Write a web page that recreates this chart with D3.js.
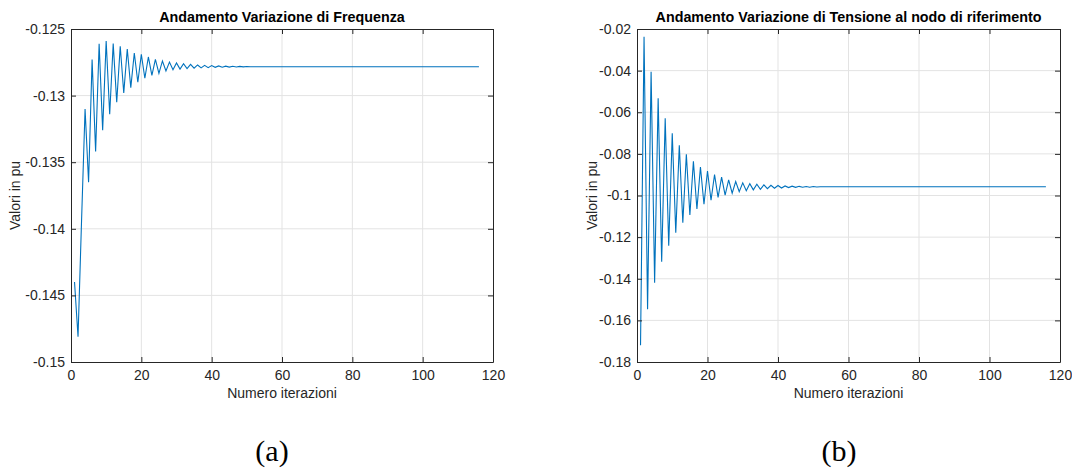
<!DOCTYPE html>
<html>
<head>
<meta charset="utf-8">
<script src="https://cdn.jsdelivr.net/npm/d3@7"></script>
<style>
  body { margin: 0; background: #fff; }
  svg { display: block; }
  text { font-family: "Liberation Sans", Arial, sans-serif; fill: #262626; }
</style>
</head>
<body>
<div id="chart"></div>
<script>
// Frequency deviation per iteration (pu)
const freqValues = [
  -0.1440, -0.1481, -0.1394, -0.1310, -0.1365, -0.1273, -0.1342, -0.1261, -0.1326, -0.1259,
  -0.1314, -0.1261, -0.1305, -0.1263, -0.1298, -0.1265, -0.1294, -0.1268, -0.1290, -0.1269,
  -0.1287, -0.1271, -0.12848, -0.12728, -0.12833, -0.1274, -0.12815, -0.12748, -0.12806, -0.12755,
  -0.12801, -0.12761, -0.12797, -0.12766, -0.12794, -0.1277, -0.12792, -0.12773, -0.1279, -0.12775,
  -0.12788, -0.12777, -0.12787, -0.12779, -0.12786, -0.1278, -0.12785, -0.12781, -0.12784, -0.12782,
  -0.12783, -0.12783, -0.12783, -0.12783, -0.12783, -0.12783, -0.12783, -0.12783, -0.12783, -0.12783,
  -0.12783, -0.12783, -0.12783, -0.12783, -0.12783, -0.12783, -0.12783, -0.12783, -0.12783, -0.12783,
  -0.12783, -0.12783, -0.12783, -0.12783, -0.12783, -0.12783, -0.12783, -0.12783, -0.12783, -0.12783,
  -0.12783, -0.12783, -0.12783, -0.12783, -0.12783, -0.12783, -0.12783, -0.12783, -0.12783, -0.12783,
  -0.12783, -0.12783, -0.12783, -0.12783, -0.12783, -0.12783, -0.12783, -0.12783, -0.12783, -0.12783,
  -0.12783, -0.12783, -0.12783, -0.12783, -0.12783, -0.12783, -0.12783, -0.12783, -0.12783, -0.12783,
  -0.12783, -0.12783, -0.12783, -0.12783, -0.12783, -0.12783
];

// Voltage deviation at the reference node per iteration (pu)
const voltValues = [
  -0.1720, -0.0237, -0.1547, -0.0405, -0.1419, -0.0533, -0.1318, -0.0629, -0.1241, -0.0701,
  -0.1179, -0.0759, -0.1131, -0.0802, -0.1094, -0.0836, -0.1065, -0.0863, -0.1042, -0.0882,
  -0.1023, -0.0900, -0.1009, -0.0912, -0.0998, -0.0925, -0.0989, -0.0933, -0.0982, -0.0939,
  -0.0977, -0.0943, -0.0973, -0.0946, -0.0970, -0.0949, -0.0967, -0.0951, -0.0965, -0.0952,
  -0.0964, -0.0954, -0.0962, -0.0955, -0.0961, -0.0956, -0.0960, -0.0957, -0.0960, -0.0957,
  -0.0959, -0.0958, -0.0958, -0.0958, -0.0958, -0.0958, -0.0958, -0.0958, -0.0958, -0.0958,
  -0.0958, -0.0958, -0.0958, -0.0958, -0.0958, -0.0958, -0.0958, -0.0958, -0.0958, -0.0958,
  -0.0958, -0.0958, -0.0958, -0.0958, -0.0958, -0.0958, -0.0958, -0.0958, -0.0958, -0.0958,
  -0.0958, -0.0958, -0.0958, -0.0958, -0.0958, -0.0958, -0.0958, -0.0958, -0.0958, -0.0958,
  -0.0958, -0.0958, -0.0958, -0.0958, -0.0958, -0.0958, -0.0958, -0.0958, -0.0958, -0.0958,
  -0.0958, -0.0958, -0.0958, -0.0958, -0.0958, -0.0958, -0.0958, -0.0958, -0.0958, -0.0958,
  -0.0958, -0.0958, -0.0958, -0.0958, -0.0958, -0.0958
];

const xTicks = [0, 20, 40, 60, 80, 100, 120];
const freqTicks = [-0.15, -0.145, -0.14, -0.135, -0.13, -0.125];
const voltTicks = [-0.18, -0.16, -0.14, -0.12, -0.1, -0.08, -0.06, -0.04, -0.02];

const panels = [
  { title: 'Andamento Variazione di Frequenza', values: freqValues, yTicks: freqTicks,
    left: 71, right: 493, caption: '(a)', captionX: 272, ylabelX: 15 },
  { title: 'Andamento Variazione di Tensione al nodo di riferimento', values: voltValues, yTicks: voltTicks,
    left: 637, right: 1060, caption: '(b)', captionX: 839, ylabelX: 592 }
];

const plotTop = 29, plotBottom = 362;
const fmt = d => String(+d.toFixed(4));

const svg = d3.select('#chart').append('svg')
  .attr('width', 1072).attr('height', 468);

panels.forEach(p => {
  const x = d3.scaleLinear().domain([0, 120]).range([p.left, p.right]);
  const y = d3.scaleLinear().domain(d3.extent(p.yTicks)).range([plotBottom, plotTop]);
  const g = svg.append('g');

  // grid
  g.append('g').selectAll('line').data(xTicks.slice(1, -1)).join('line')
    .attr('x1', d => x(d)).attr('x2', d => x(d)).attr('y1', plotTop).attr('y2', plotBottom)
    .attr('stroke', '#e3e3e3').attr('stroke-width', 1);
  g.append('g').selectAll('line').data(p.yTicks.slice(1, -1)).join('line')
    .attr('x1', p.left).attr('x2', p.right).attr('y1', d => y(d)).attr('y2', d => y(d))
    .attr('stroke', '#e3e3e3').attr('stroke-width', 1);

  // series
  const line = d3.line().x((d, i) => x(i + 1)).y(d => y(d));
  g.append('path').datum(p.values)
    .attr('d', line)
    .attr('fill', 'none')
    .attr('stroke', '#0072bd')
    .attr('stroke-width', 1.1);

  // axes with inward ticks on all four sides
  const ax = g.append('g').attr('transform', `translate(0,${plotBottom})`)
    .call(d3.axisBottom(x).tickValues(xTicks).tickSizeInner(-5).tickSizeOuter(0).tickPadding(8).tickFormat(fmt));
  const at = g.append('g').attr('transform', `translate(0,${plotTop})`)
    .call(d3.axisTop(x).tickValues(xTicks).tickSizeInner(-5).tickSizeOuter(0).tickFormat(''));
  const ay = g.append('g').attr('transform', `translate(${p.left},0)`)
    .call(d3.axisLeft(y).tickValues(p.yTicks).tickSizeInner(-5).tickSizeOuter(0).tickPadding(6).tickFormat(fmt));
  const ar = g.append('g').attr('transform', `translate(${p.right},0)`)
    .call(d3.axisRight(y).tickValues(p.yTicks).tickSizeInner(-5).tickSizeOuter(0).tickFormat(''));
  [ax, at, ay, ar].forEach(a => {
    a.select('.domain').attr('stroke', '#262626').attr('stroke-width', 1);
    a.selectAll('.tick line').attr('stroke', '#262626');
    a.selectAll('.tick text').attr('font-size', 14).attr('fill', '#262626')
      .style('font-family', '"Liberation Sans", Arial, sans-serif');
  });

  // title and labels
  svg.append('text')
    .attr('x', (p.left + p.right) / 2).attr('y', 22)
    .attr('text-anchor', 'middle').attr('font-size', 14.3).attr('font-weight', 'bold')
    .style('fill', '#000')
    .text(p.title);
  svg.append('text')
    .attr('x', (p.left + p.right) / 2).attr('y', 398)
    .attr('text-anchor', 'middle').attr('font-size', 14)
    .text('Numero iterazioni');
  svg.append('text')
    .attr('transform', `translate(${p.ylabelX + 5},${(plotTop + plotBottom) / 2}) rotate(-90)`)
    .attr('text-anchor', 'middle').attr('font-size', 14)
    .text('Valori in pu');
  svg.append('text')
    .attr('x', p.captionX).attr('y', 461)
    .attr('text-anchor', 'middle').attr('font-size', 30)
    .style('font-family', '"Liberation Serif", "DejaVu Serif", serif')
    .style('fill', '#000')
    .text(p.caption);
});
</script>
</body>
</html>
